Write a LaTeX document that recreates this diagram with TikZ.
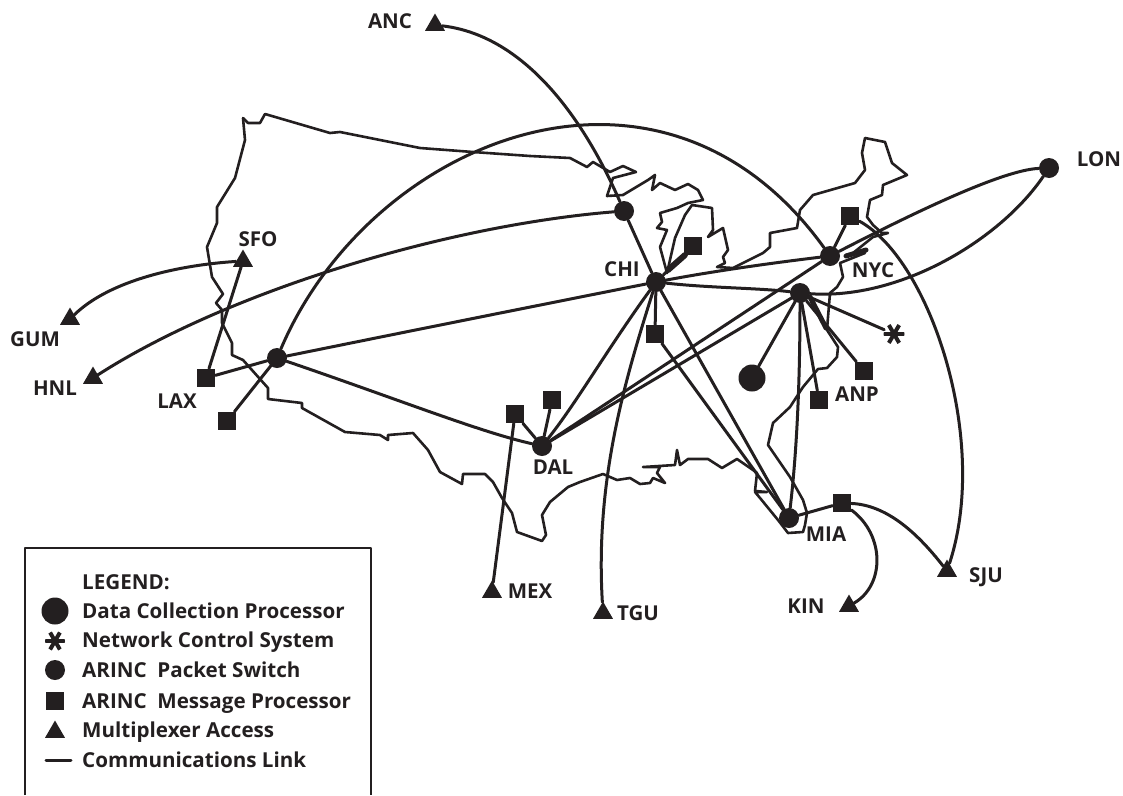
\documentclass[tikz,border=0pt]{standalone}
\usepackage{fontspec}
\setmainfont{Open Sans}
\usetikzlibrary{shapes.geometric}
\definecolor{ink}{HTML}{231F20}
\tikzset{
    lab/.style={
        text=ink,font=\fontsize{20.5}{24}\selectfont\bfseries,inner sep=0pt
    },
    legtext/.style={
        lab,anchor=base west,font=\fontsize{20.6}{24}\selectfont\bfseries
    },
    coast/.style={draw=ink,line width=2.6pt,line join=round,line cap=round},
    link/.style={draw=ink,line width=3pt,line cap=round},
    dcp/.style={circle,fill=ink,minimum size=27pt,inner sep=0pt},
    psw/.style={circle,fill=ink,minimum size=20pt,inner sep=0pt},
    amp/.style={rectangle,fill=ink,minimum size=18.5pt,inner sep=0pt},
    mux/.style={regular polygon,regular polygon sides=3,fill=ink,minimum size=23pt,inner sep=0pt},
    ncs/.style={circle,minimum size=21pt,inner sep=0pt,path picture={
        \foreach \a/\b in {0/180,60/240,120/300}
            \draw[ink,line width=4pt] (path picture bounding box.\a) -- (path picture bounding box.\b);
    }}
}

\begin{document}
\begin{tikzpicture}[x=1pt,y=-1pt,line cap=round,line join=round]
    \useasboundingbox (0,0) rectangle (1123,795);

% --- map outline ---
    \draw[coast] (243,118) -- (248,123) -- (260,123) -- (265,114) -- (330,133) -- (340,132)
        -- (420,148) -- (473,152) -- (530,156) -- (570,158) -- (587,167) -- (593,162)
        -- (610,172) -- (623,166) -- (636,172) -- (613,178) -- (607,196) -- (623,195)
        -- (648,180) -- (655,175) -- (652,190) -- (660,183) -- (675,190) -- (688,184)
        -- (698,190) -- (703,200) -- (688,203) -- (677,208) -- (660,213) -- (662,222)
        -- (657,228) -- (667,230) -- (660,247) -- (667,273);
    \draw[coast] (667,273) -- (675,238) -- (685,215) -- (692,205) -- (712,208) -- (713,230)
        -- (708,237) -- (723,228) -- (728,250) -- (723,257) -- (725,263) -- (717,267)
        -- (733,268) -- (763,253) -- (770,247) -- (770,233) -- (797,228) -- (800,210)
        -- (813,195) -- (855,183) -- (865,170) -- (862,153) -- (865,138) -- (885,142)
        -- (892,163) -- (907,175) -- (883,185) -- (882,195) -- (870,200) -- (867,217)
        -- (873,225) -- (882,233) -- (888,233) -- (873,237) -- (853,253) -- (865,253)
        -- (840,263) -- (843,277) -- (837,287) -- (830,293) -- (828,317) -- (827,330)
        -- (838,347) -- (837,357) -- (827,368) -- (818,369) -- (803,387) -- (790,407)
        -- (773,423) -- (768,445) -- (790,477) -- (803,500) -- (807,513) -- (805,525)
        -- (803,532) -- (788,533) -- (778,520) -- (760,498) -- (755,492) -- (767,492)
        -- (755,491) -- (757,473) -- (753,470) -- (737,459) -- (722,468) -- (708,459)
        -- (688,459) -- (680,465) -- (677,450) -- (675,465) -- (643,467) -- (660,467)
        -- (657,473) -- (665,483) -- (653,478) -- (650,483) -- (640,484) -- (630,478)
        -- (617,480) -- (603,474) -- (580,482) -- (568,487) -- (550,502) -- (542,515)
        -- (546,535) -- (542,541) -- (517,532) -- (512,513) -- (502,498) -- (493,482)
        -- (485,474) -- (463,474) -- (462,484) -- (440,472) -- (428,450) -- (413,433)
        -- (388,435) -- (388,440) -- (380,435) -- (345,432) -- (302,408) -- (302,403)
        -- (268,399) -- (268,388) -- (243,360) -- (232,355) -- (232,343) -- (222,323)
        -- (222,310) -- (216,303) -- (223,294) -- (212,277) -- (207,247) -- (217,223)
        -- (217,207) -- (235,178) -- (245,140) -- (243,118);
    \draw[coast,line width=6pt] (668,270) -- (685,255);
    \draw[coast,line width=5pt] (810,297) -- (826,328);
    \draw[coast,line width=5pt] (846,256) -- (866,250);

% sites
    \node[mux] (anc) at (435,25) {};
    \node[mux] (sfo) at (243,261) {};
    \node[mux] (gum) at (70,319) {};
    \node[mux] (hnl) at (93,378) {};
    \node[mux] (mex) at (492,592) {};
    \node[mux] (tgu) at (603,613) {};
    \node[mux] (kin) at (849,606) {};
    \node[mux] (sju) at (947,571) {};

    \node[psw] (sea) at (624,211) {};
    \node[psw] (west) at (277,358) {};
    \node[psw] (chi) at (656,282) {};
    \node[psw] (nyc) at (830,256) {};
    \node[psw] (wdc) at (800,293) {};
    \node[psw] (dal) at (542,446) {};
    \node[psw] (mia) at (789,518) {};
    \node[psw] (lon) at (1049,168) {};

    \node[amp] (lax) at (206,378) {};
    \node[amp] (san) at (227,421) {};
    \node[amp] (dtw) at (693,246) {};
    \node[amp] (stl) at (655,334) {};
    \node[amp] (bos) at (850,216) {};
    \node[amp] (anp) at (819,400) {};
    \node[amp] (phl) at (864,371) {};
    \node[amp] (hou) at (515,414) {};
    \node[amp] (msy) at (552,400) {};
    \node[amp] (jax) at (842,503) {};

    \node[dcp] (data) at (752,378) {};
    \node[ncs] (ctrl) at (894,334) {};

% links, straight
    \draw[link] (lax) -- (west);
    \draw[link] (lax) -- (sfo);
    \draw[link] (san) -- (west);
    \draw[link] (west) .. controls (400,400) and (480,432) .. (dal);
    \draw[link] (west) .. controls (400,333) and (530,307) .. (chi);
    \draw[link] (sea) -- (chi);
    \draw[link] (chi) -- (dtw);
    \draw[link] (chi) -- (stl);
    \draw[link] (chi) .. controls (720,270) and (780,262) .. (nyc);
    \draw[link] (chi) .. controls (710,288) and (760,288) .. (wdc);
    \draw[link] (chi) -- (mia);
    \draw[link] (stl) -- (mia);
    \draw[link] (chi) .. controls (610,345) and (575,405) .. (dal);
    \draw[link] (nyc) -- (dal);
    \draw[link] (wdc) -- (dal);
    \draw[link] (nyc) -- (bos);
    \draw[link] (wdc) -- (data);
    \draw[link] (wdc) -- (anp);
    \draw[link] (wdc) -- (phl);
    \draw[link] (wdc) -- (ctrl);
    \draw[link] (wdc) .. controls (800,380) and (797,450) .. (mia);
    \draw[link] (hou) -- (dal);
    \draw[link] (msy) -- (dal);
    \draw[link] (hou) -- (mex);
    \draw[link] (mia) -- (jax);

% links, curved
    \draw[link] (anc) .. controls (520,35) and (580,110) .. (sea);
    \draw[link] (west) .. controls (370,140) and (660,20) .. (nyc);
    \draw[link] (hnl) .. controls (230,290) and (450,225) .. (sea);
    \draw[link] (gum) .. controls (110,280) and (180,265) .. (sfo);
    \draw[link] (chi) .. controls (625,380) and (595,480) .. (tgu);
    \draw[link] (wdc) .. controls (900,300) and (1000,240) .. (lon);
    \draw[link] (nyc) .. controls (900,220) and (1000,170) .. (lon);
    \draw[link] (bos) .. controls (930,260) and (990,440) .. (sju);
    \draw[link] (jax) .. controls (885,505) and (915,530) .. (sju);
    \draw[link] (jax) .. controls (885,535) and (885,585) .. (kin);

% site labels
    \node[lab] (lanc) at (390,21) {ANC};
    \node[lab] (lsfo) at (258,239) {SFO};
    \node[lab] (lgum) at (35,339) {GUM};
    \node[lab] (lhnl) at (55,388) {HNL};
    \node[lab] (llax) at (177,401) {LAX};
    \node[lab] (lchi) at (622,269) {CHI};
    \node[lab] (lnyc) at (873,270) {NYC};
    \node[lab] (ldal) at (553,467) {DAL};
    \node[lab] (lanp) at (857,394) {ANP};
    \node[lab] (lmia) at (826,534) {MIA};
    \node[lab] (lmex) at (530,591) {MEX};
    \node[lab] (ltgu) at (638,613) {TGU};
    \node[lab] (lkin) at (806,606) {KIN};
    \node[lab] (lsju) at (986,577) {SJU};
    \node[lab] (llon) at (1099,159) {LON};

% legend
    \draw[draw=ink,line width=2.4pt,line cap=butt] (25,795) -- (25,548) -- (371,548) -- (371,795);
    \node[legtext] (leghead) at (82,589) {LEGEND:};
    \node[dcp] (keydcp) at (55,611) {};
    \node[legtext] (legdcp) at (82,618) {Data Collection Processor};
    \node[ncs,minimum size=20pt] (keyncs) at (55,641) {};
    \node[legtext] (legncs) at (82,647) {Network Control System};
    \node[psw] (keypsw) at (55,670) {};
    \node[legtext] (legpsw) at (82,677) {ARINC\ \ Packet Switch};
    \node[amp] (keyamp) at (55,701) {};
    \node[legtext] (legamp) at (82,708) {ARINC\ \ Message Processor};
    \node[mux] (keymux) at (55,732) {};
    \node[legtext] (legmux) at (82,737) {Multiplexer Access};
    \coordinate (keya) at (46,760);
    \coordinate (keyb) at (71,760);
    \draw[link] (keya) -- (keyb);
    \node[legtext] (leglink) at (82,767) {Communications Link};

\end{tikzpicture}
\end{document}
